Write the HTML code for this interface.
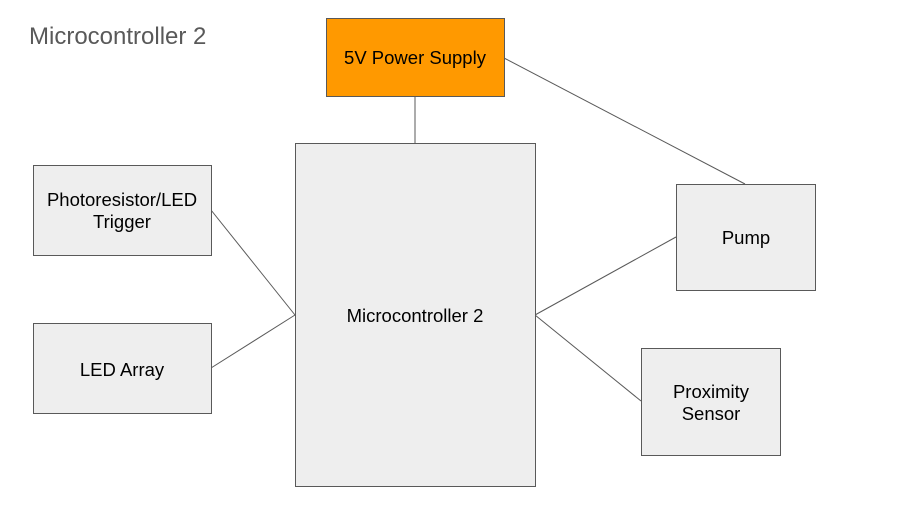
<!DOCTYPE html>
<html><head><style>
body{margin:0;background:#fff;}
svg{display:block;font-family:"Liberation Sans",Arial,sans-serif;}
</style></head><body>
<svg width="901" height="510" viewBox="0 0 901 510" xmlns="http://www.w3.org/2000/svg">
<rect width="901" height="510" fill="#fff"/>
<text x="29" y="44" font-size="24" fill="#595959">Microcontroller 2</text>
<g stroke="#595959" stroke-width="1" fill="none">
<line x1="415" y1="96" x2="415" y2="143"/>
<line x1="504" y1="58" x2="745" y2="184"/>
<line x1="211" y1="210" x2="295" y2="315"/>
<line x1="211" y1="368" x2="295" y2="315"/>
<line x1="535" y1="315" x2="676" y2="237"/>
<line x1="535" y1="315" x2="641" y2="401"/>
</g>
<g stroke="#595959" stroke-width="1">
<rect x="326.5" y="18.5" width="178" height="78" fill="#ff9900"/>
<rect x="295.5" y="143.5" width="240" height="343" fill="#eeeeee"/>
<rect x="33.5" y="165.5" width="178" height="90" fill="#eeeeee"/>
<rect x="33.5" y="323.5" width="178" height="90" fill="#eeeeee"/>
<rect x="676.5" y="184.5" width="139" height="106" fill="#eeeeee"/>
<rect x="641.5" y="348.5" width="139" height="107" fill="#eeeeee"/>
</g>
<g font-size="18.5" fill="#000" text-anchor="middle">
<text x="415" y="64">5V Power Supply</text>
<text x="415" y="322">Microcontroller 2</text>
<text x="122" y="206">Photoresistor/LED</text>
<text x="122" y="228">Trigger</text>
<text x="122" y="376">LED Array</text>
<text x="746" y="244">Pump</text>
<text x="711" y="398">Proximity</text>
<text x="711" y="420">Sensor</text>
</g>
</svg>
</body></html>
